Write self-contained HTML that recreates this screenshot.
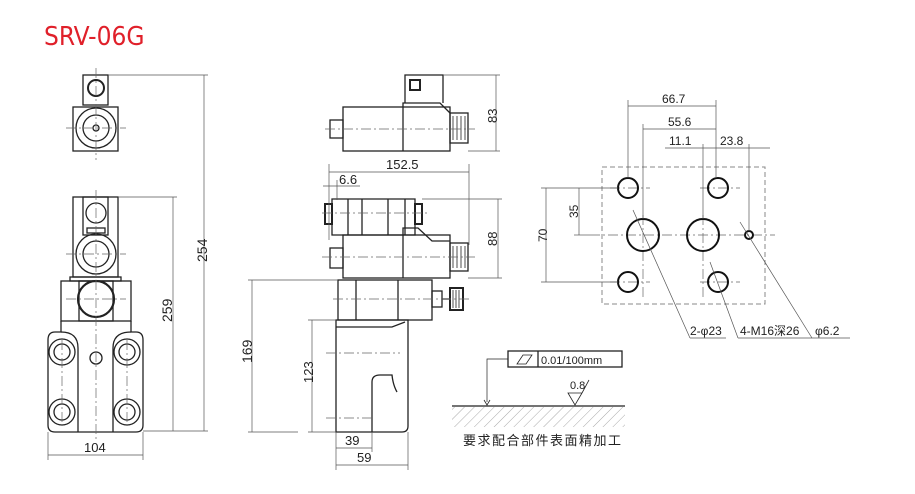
<!DOCTYPE html>
<html><head><meta charset="utf-8"><style>
html,body{margin:0;padding:0;background:#fff;}
svg{display:block;}
text{font-family:"Liberation Sans","Noto Sans CJK SC",sans-serif;fill:#222;}
</style></head><body>
<svg width="915" height="494" viewBox="0 0 915 494" xmlns="http://www.w3.org/2000/svg">
<defs>
<pattern id="h" width="7" height="7" patternUnits="userSpaceOnUse" patternTransform="rotate(45)">
<line x1="0" y1="0" x2="0" y2="7" stroke="#aaa" stroke-width="1"/></pattern>
</defs>
<text x="44" y="45" style="font-family:'DejaVu Sans Condensed','Liberation Sans Narrow',sans-serif;fill:#e0202a;font-size:26px">SRV-06G</text>

<g fill="none" stroke="#222" stroke-width="1.3">
<rect x="83" y="75" width="25" height="30"/>
<circle cx="96" cy="88" r="8" stroke-width="2"/>
<rect x="73" y="107" width="45" height="44"/>
<circle cx="96" cy="128" r="20"/>
<circle cx="96" cy="128" r="13"/>
<circle cx="96" cy="128" r="3"/>
<rect x="73" y="197" width="45" height="80"/>
<rect x="83" y="197" width="25" height="38"/>
<circle cx="96" cy="213" r="10"/>
<rect x="87" y="228" width="18" height="5"/>
<circle cx="96" cy="254" r="20"/>
<circle cx="96" cy="254" r="13"/>
<rect x="70" y="277" width="51" height="4"/>
<rect x="61" y="281" width="70" height="40"/>
<rect x="79" y="281" width="34" height="40"/>
<circle cx="96" cy="299" r="18" stroke-width="2.2"/>
<path d="M61 321 V332 H55 Q48 332 48 340 V425 Q48 432 55 432 H136 Q143 432 143 425 V340 Q143 332 136 332 H131 V321"/>
<path d="M61 332 Q78 332 78 348 V432 M131 332 Q113 332 113 348 V432"/>
<circle cx="62" cy="352" r="13"/><circle cx="62" cy="352" r="8"/>
<circle cx="127" cy="352" r="13"/><circle cx="127" cy="352" r="8"/>
<circle cx="62" cy="412" r="13"/><circle cx="62" cy="412" r="8"/>
<circle cx="127" cy="412" r="13"/><circle cx="127" cy="412" r="8"/>
<circle cx="96" cy="358" r="6"/>

<rect x="343" y="107" width="107" height="44"/>
<line x1="403" y1="107" x2="403" y2="151"/>
<path d="M405 103 V75 H443 V103"/>
<rect x="410" y="80" width="10" height="10" stroke-width="2"/>
<path d="M403 107 V103 H440 L450 113"/>
<rect x="450" y="113" width="18" height="30"/>
<rect x="330" y="120" width="13" height="18"/>
<path d="M332 199 H415 V235 H332 Z"/>
<line x1="348" y1="199" x2="348" y2="235"/><line x1="362" y1="199" x2="362" y2="235"/><line x1="388" y1="199" x2="388" y2="235"/><line x1="405" y1="199" x2="405" y2="235"/>
<rect x="325" y="204" width="7" height="20" stroke-width="2"/>
<rect x="415" y="204" width="7" height="20" stroke-width="2"/>
<rect x="343" y="235" width="107" height="43"/>
<line x1="403" y1="235" x2="403" y2="278"/>
<path d="M403 235 V228 H418 L432 241 H450"/>
<rect x="450" y="243" width="18" height="28"/>
<rect x="330" y="248" width="13" height="20"/>
<rect x="338" y="280" width="94" height="40"/>
<line x1="356" y1="280" x2="356" y2="320"/><line x1="398" y1="280" x2="398" y2="320"/>
<rect x="432" y="291" width="10" height="16"/>
<line x1="442" y1="299" x2="450" y2="299"/>
<rect x="450" y="288" width="13" height="22" stroke-width="2"/>
<path d="M336 320 H408 V426 Q408 432 402 432 H336 Z"/>
<path d="M336 327 H392 L405 322"/>
<path d="M372 432 V382 Q372 375 380 375 H392 Q393 385 397 392"/>
</g>

<g stroke="#222" stroke-width="0.8">
<line x1="453" y1="116" x2="453" y2="140"/><line x1="457" y1="116" x2="457" y2="140"/><line x1="461" y1="116" x2="461" y2="140"/><line x1="465" y1="116" x2="465" y2="140"/>
<line x1="453" y1="246" x2="453" y2="268"/><line x1="457" y1="246" x2="457" y2="268"/><line x1="461" y1="246" x2="461" y2="268"/><line x1="465" y1="246" x2="465" y2="268"/>
<line x1="453" y1="290" x2="453" y2="308"/><line x1="456" y1="290" x2="456" y2="308"/><line x1="459" y1="290" x2="459" y2="308"/>
</g>

<g stroke="#666" stroke-width="0.7" stroke-dasharray="10,3,2,3" fill="none">
<line x1="96" y1="68" x2="96" y2="160"/><line x1="66" y1="128" x2="126" y2="128"/>
<line x1="96" y1="190" x2="96" y2="440"/><line x1="66" y1="254" x2="126" y2="254"/><line x1="66" y1="299" x2="126" y2="299"/>
<line x1="62" y1="340" x2="62" y2="425"/><line x1="127" y1="340" x2="127" y2="425"/>
<line x1="325" y1="129" x2="475" y2="129"/><line x1="322" y1="213" x2="428" y2="213"/><line x1="322" y1="257" x2="475" y2="257"/><line x1="333" y1="299" x2="470" y2="299"/>
<line x1="326" y1="353" x2="400" y2="353"/><line x1="326" y1="418" x2="372" y2="418"/>
<line x1="590" y1="235" x2="775" y2="235"/>
<line x1="643" y1="215" x2="643" y2="300"/><line x1="703" y1="215" x2="703" y2="300"/>
<line x1="610" y1="188" x2="650" y2="188"/><line x1="700" y1="188" x2="740" y2="188"/>
<line x1="610" y1="282" x2="650" y2="282"/><line x1="700" y1="282" x2="740" y2="282"/>
</g>

<rect x="602" y="167" width="163" height="137" fill="none" stroke="#888" stroke-width="1" stroke-dasharray="5,3"/>
<g fill="none" stroke="#111" stroke-width="2">
<circle cx="628" cy="188" r="10"/><circle cx="718" cy="188" r="10"/>
<circle cx="628" cy="282" r="10"/><circle cx="718" cy="282" r="10"/>
<circle cx="643" cy="235" r="16"/><circle cx="703" cy="235" r="16"/>
<circle cx="749" cy="235" r="4"/>
</g>

<g stroke="#555" stroke-width="0.7" fill="none">
<line x1="108" y1="75" x2="208" y2="75"/><line x1="143" y1="431" x2="208" y2="431"/><line x1="204" y1="75" x2="204" y2="431"/>
<line x1="118" y1="197" x2="177" y2="197"/><line x1="173" y1="197" x2="173" y2="431"/>
<line x1="48" y1="432" x2="48" y2="460"/><line x1="143" y1="432" x2="143" y2="460"/><line x1="48" y1="455" x2="143" y2="455"/>
<line x1="443" y1="75" x2="500" y2="75"/><line x1="468" y1="151" x2="500" y2="151"/><line x1="496" y1="75" x2="496" y2="151"/>
<line x1="329" y1="164" x2="329" y2="240"/><line x1="469" y1="164" x2="469" y2="245"/><line x1="329" y1="172" x2="469" y2="172"/>
<line x1="323" y1="186" x2="360" y2="186"/><line x1="337" y1="180" x2="337" y2="200"/>
<line x1="422" y1="199" x2="502" y2="199"/><line x1="468" y1="278" x2="502" y2="278"/><line x1="498" y1="199" x2="498" y2="278"/>
<line x1="248" y1="280" x2="338" y2="280"/><line x1="248" y1="432" x2="298" y2="432"/><line x1="252" y1="280" x2="252" y2="432"/>
<line x1="308" y1="320" x2="336" y2="320"/><line x1="308" y1="432" x2="336" y2="432"/><line x1="312" y1="320" x2="312" y2="432"/>
<line x1="336" y1="432" x2="336" y2="470"/><line x1="372" y1="432" x2="372" y2="452"/><line x1="408" y1="432" x2="408" y2="470"/>
<line x1="336" y1="448" x2="372" y2="448"/><line x1="336" y1="465" x2="408" y2="465"/>
<line x1="628" y1="100" x2="628" y2="178"/><line x1="716" y1="100" x2="716" y2="178"/><line x1="628" y1="106" x2="716" y2="106"/>
<line x1="643" y1="124" x2="643" y2="219"/><line x1="643" y1="129" x2="716" y2="129"/>
<line x1="703" y1="144" x2="703" y2="219"/><line x1="749" y1="144" x2="749" y2="231"/><line x1="665" y1="148" x2="770" y2="148"/>
<line x1="541" y1="188" x2="618" y2="188"/><line x1="541" y1="282" x2="618" y2="282"/><line x1="546" y1="188" x2="546" y2="282"/>
<line x1="574" y1="235" x2="590" y2="235"/><line x1="579" y1="188" x2="579" y2="235"/>
<line x1="633" y1="210" x2="690" y2="338"/><line x1="690" y1="338" x2="726" y2="338"/>
<line x1="710" y1="262" x2="738" y2="338"/><line x1="738" y1="338" x2="812" y2="338"/>
<line x1="740" y1="222" x2="812" y2="338"/><line x1="812" y1="338" x2="850" y2="338"/>
</g>

<text x="190" y="265" font-size="14" transform="rotate(-90 197 255)">254</text>
<text x="160" y="320" font-size="14" transform="rotate(-90 167 315)">259</text>
<text x="84" y="452" font-size="13">104</text>
<text x="480" y="120" font-size="13" transform="rotate(-90 490 113)">83</text>
<text x="386" y="169" font-size="13">152.5</text>
<text x="339" y="184" font-size="13">6.6</text>
<text x="483" y="246" font-size="13" transform="rotate(-90 490 239)">88</text>
<text x="236" y="365" font-size="14" transform="rotate(-90 243 356)">169</text>
<text x="296" y="386" font-size="13" transform="rotate(-90 303 376)">123</text>
<text x="345" y="445" font-size="13">39</text>
<text x="357" y="462" font-size="13">59</text>
<text x="662" y="103" font-size="12">66.7</text>
<text x="668" y="126" font-size="12">55.6</text>
<text x="669" y="145" font-size="12">11.1</text>
<text x="720" y="145" font-size="12">23.8</text>
<text x="533" y="242" font-size="12" transform="rotate(-90 540 235)">70</text>
<text x="566" y="218" font-size="12" transform="rotate(-90 572 212)">35</text>
<text x="690" y="335" font-size="12">2-φ23</text>
<text x="740" y="335" font-size="12">4-M16深26</text>
<text x="815" y="335" font-size="12">φ6.2</text>

<g fill="none" stroke="#222">
<rect x="508" y="351" width="114" height="16" stroke-width="1.3"/>
<line x1="538" y1="351" x2="538" y2="367" stroke-width="1.3"/>
<path d="M517 364 L523 355 H532 L526 364 Z" stroke-width="0.8"/>
<path d="M508 359 H487 V402" stroke-width="0.7"/>
<path d="M484 400 L487 405 L490 400" stroke-width="0.8"/>
<line x1="452" y1="406" x2="625" y2="406" stroke-width="1.3"/>
<path d="M568 393 L575 405 L582 393 Z M582 393 L589 380" stroke-width="0.8"/>
</g>
<rect x="452" y="407" width="173" height="20" fill="url(#h)"/>
<text x="541" y="364" font-size="11">0.01/100mm</text>
<text x="570" y="389" font-size="11">0.8</text>
<text x="463" y="445" font-size="13" style="letter-spacing:1.5px">要求配合部件表面精加工</text>
</svg>
</body></html>
